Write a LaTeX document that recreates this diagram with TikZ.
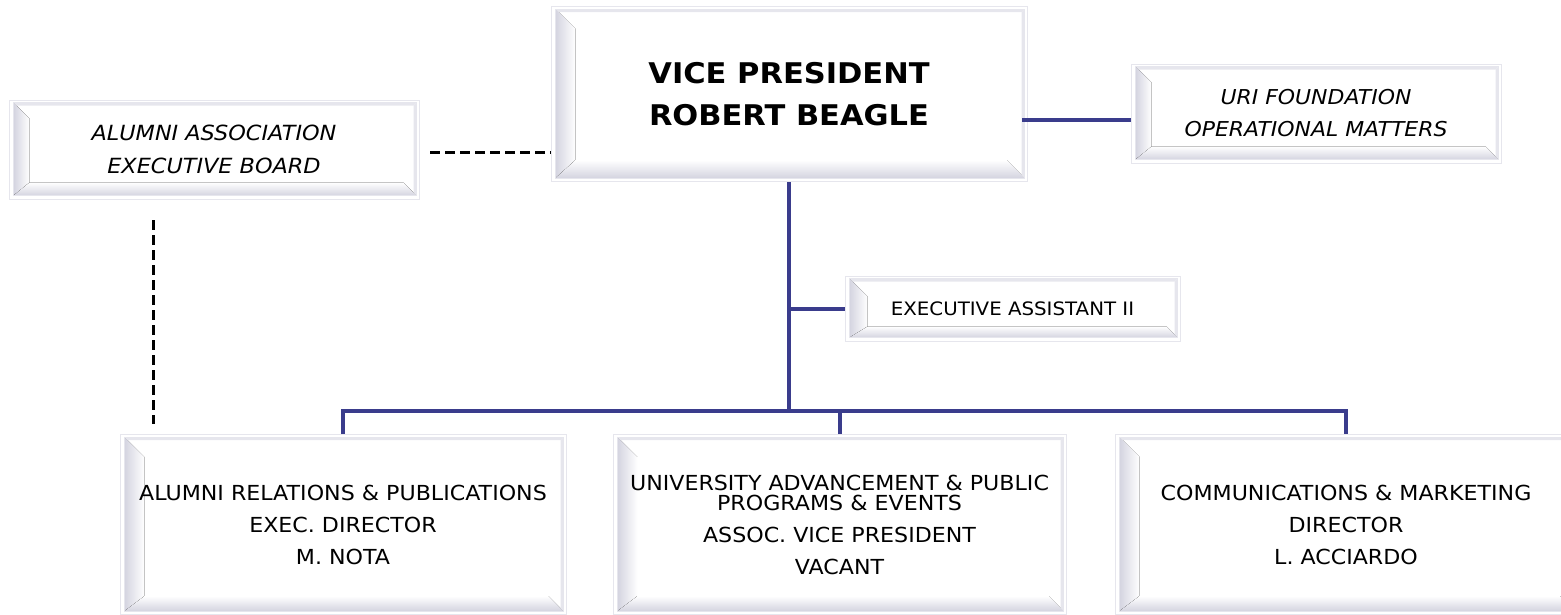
\documentclass[tikz,border=0pt]{standalone}
\usepackage{fontspec}
\setmainfont[FakeStretch=1.07]{DejaVu Sans}
\usetikzlibrary{backgrounds,calc}
\definecolor{navy}{RGB}{58,60,140}
\definecolor{bev}{RGB}{212,212,224}
\definecolor{edgec}{RGB}{230,230,237}
\tikzset{
  box/.style={draw=edgec, line width=1pt, inner sep=0pt, align=center, font=\fontsize{20.7}{32}\selectfont},
  conn/.style={draw=navy, line width=4pt},
  dashline/.style={draw=black, line width=3pt, dash pattern=on 10pt off 5pt},
}
\newcommand\bevelbox[3]{%
  \coordinate (iNW) at ($(#1.north west)+(5,3)$);
  \coordinate (iNE) at ($(#1.north east)+(-3,3)$);
  \coordinate (iSW) at ($(#1.south west)+(5,-4)$);
  \coordinate (iSE) at ($(#1.south east)+(-3,-4)$);
  \fill[left color=bev, right color=white] (iNW) -- ($(iNW)+(#2,#2)$) -- ($(iSW)+(#2,-#3)$) -- (iSW) -- cycle;
  \fill[top color=white, bottom color=bev] (iSW) -- ($(iSW)+(#2,-#3)$) -- ($(iSE)+(-#3,-#3)$) -- (iSE) -- cycle;
  \fill[edgec] (iNW) -- (iNE) -- ($(iNE)+(-3,3)$) -- ($(iNW)+(3,3)$) -- cycle;
  \fill[edgec] (iNE) -- (iSE) -- ($(iSE)+(-3,-3)$) -- ($(iNE)+(-3,3)$) -- cycle;
  \draw[edgec, line width=0.8pt] (iNW) rectangle (iSE);
}
\begin{document}
\begin{tikzpicture}[x=1pt, y=-1pt]
\useasboundingbox (0,0) rectangle (1561,614);
% nodes
\node[box, minimum width=476, minimum height=175, font=\fontsize{28.5}{42}\selectfont\bfseries] (vp) at (789,94) {VICE PRESIDENT\\ROBERT BEAGLE};
\node[box, minimum width=410, minimum height=99, font=\fontsize{20.9}{33}\selectfont\itshape] (aa) at (214,149.5) {ALUMNI ASSOCIATION\\EXECUTIVE BOARD};
\node[box, minimum width=370, minimum height=99, font=\fontsize{20.5}{32}\selectfont\itshape] (uri) at (1316,113.5) {URI FOUNDATION\\OPERATIONAL MATTERS};
\node[box, minimum width=335, minimum height=65, font=\fontsize{18.5}{24}\selectfont] (ea) at (1012.5,308.5) {EXECUTIVE ASSISTANT II};
\node[box, minimum width=446, minimum height=180] (b1) at (343,524.5) {ALUMNI RELATIONS \& PUBLICATIONS\\EXEC. DIRECTOR\\M. NOTA};
\node[box, minimum width=453, minimum height=180] (b2) at (839.5,524.5) {UNIVERSITY ADVANCEMENT \& PUBLIC\\[-12pt]PROGRAMS \& EVENTS\\ASSOC. VICE PRESIDENT\\VACANT};
\node[box, minimum width=462, minimum height=180] (b3) at (1346,524.5) {COMMUNICATIONS \& MARKETING\\DIRECTOR\\L. ACCIARDO};
% bevels
\begin{scope}[on background layer]
  \bevelbox{vp}{20}{18}
  \bevelbox{aa}{16}{13}
  \bevelbox{uri}{16}{13}
  \bevelbox{ea}{18}{11}
  \bevelbox{b1}{20}{15}
  \bevelbox{b2}{20}{15}
  \bevelbox{b3}{20}{15}
\end{scope}
% connectors
\coordinate (bar) at (789,411);
\draw[conn] (vp.south) -- (bar);
\draw[conn] (b1.north) -- (b1.north |- bar) -- (b3.north |- bar) -- (b3.north);
\draw[conn] (b2.north) -- (b2.north |- bar);
\draw[conn] (vp.south |- ea.west) -- (ea.west);
\coordinate (urij) at (1022,120);
\draw[conn] (urij) -- (urij -| uri.west);
\coordinate (dh) at (430,152);
\draw[dashline] (dh) -- (dh -| vp.west);
\coordinate (dv1) at (153,220);
\coordinate (dv2) at (153,424);
\draw[dashline] (dv1) -- (dv2);
\end{tikzpicture}
\end{document}
